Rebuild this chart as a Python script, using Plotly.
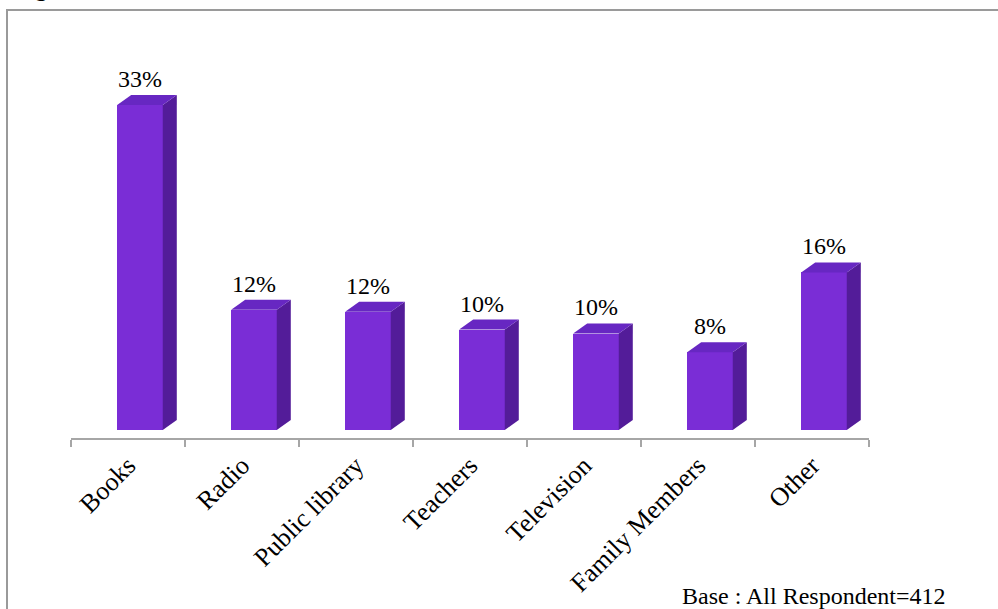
import plotly.graph_objects as go

categories = ["Books", "Radio", "Public library", "Teachers", "Television", "Family Members", "Other"]
values = [33.0, 12.2, 12.0, 10.2, 9.8, 7.9, 16.0]
labels = ["33%", "12%", "12%", "10%", "10%", "8%", "16%"]

FRONT = "#7A2DD6"
SIDE = "#531C99"
TOP = "#6727C2"
FONT = "Liberation Serif"

off = 0.105      # front face centre offset from category centre
w = 0.40         # front face width
dx = 0.123       # depth in x (category units)
dy = 1.02        # depth in y (value units)

fig = go.Figure()

xs = [i + off for i in range(len(values))]

# side and top faces
for xc, v in zip(xs, values):
    r = xc + w / 2
    l = xc - w / 2
    fig.add_trace(go.Scatter(
        x=[r, r + dx, r + dx, r, r], y=[0, dy, v + dy, v, 0],
        mode="lines", fill="toself", fillcolor=SIDE, line=dict(width=0),
        hoverinfo="skip", showlegend=False))
    fig.add_trace(go.Scatter(
        x=[l, r, r + dx, l + dx, l], y=[v, v, v + dy, v + dy, v],
        mode="lines", fill="toself", fillcolor=TOP, line=dict(width=0),
        hoverinfo="skip", showlegend=False))

fig.add_trace(go.Bar(x=xs, y=values, width=w, marker=dict(color=FRONT, line=dict(width=0)),
                     showlegend=False, hoverinfo="skip"))

for xc, v, t in zip(xs, values, labels):
    fig.add_annotation(x=xc, y=v + dy, text=t, showarrow=False, yanchor="bottom",
                       yshift=1, font=dict(family=FONT, size=24, color="black"))

fig.add_annotation(xref="paper", yref="paper", x=0.763, y=-0.434, xanchor="left", yanchor="bottom",
                   text="Base : All Respondent=412", showarrow=False,
                   font=dict(family=FONT, size=24, color="black"))

# partial figure caption cut off at the top
fig.add_annotation(xref="paper", yref="paper", x=-0.074, y=1.094, xanchor="left", yanchor="bottom",
                   text="<b>Figure</b>", showarrow=False,
                   font=dict(family=FONT, size=24, color="black"))

# outer frame
fig.add_shape(type="rect", xref="paper", yref="paper", x0=-0.0802, x1=1.3, y0=-0.6, y1=1.0754,
              line=dict(color="#9A9A9A", width=2), fillcolor="rgba(0,0,0,0)", layer="below")

fig.update_layout(
    width=998, height=609,
    margin=dict(l=71, r=129, t=40, b=171),
    paper_bgcolor="white", plot_bgcolor="white",
    bargap=0,
    xaxis=dict(range=[-0.5, 6.5], tickvals=list(range(len(categories))), ticktext=categories,
               tickangle=-45, ticks="", showline=True, linecolor="#A6A6A6", linewidth=2,
               showgrid=False, zeroline=False,
               tickfont=dict(family=FONT, size=26, color="black"),
               minor=dict(tickvals=[i - 0.5 for i in range(len(categories) + 1)], ticks="outside",
                          ticklen=7, tickcolor="#A6A6A6", tickwidth=2, showgrid=False)),
    yaxis=dict(range=[-0.81, 39.6], visible=False),
)

fig.write_html("out.html")
